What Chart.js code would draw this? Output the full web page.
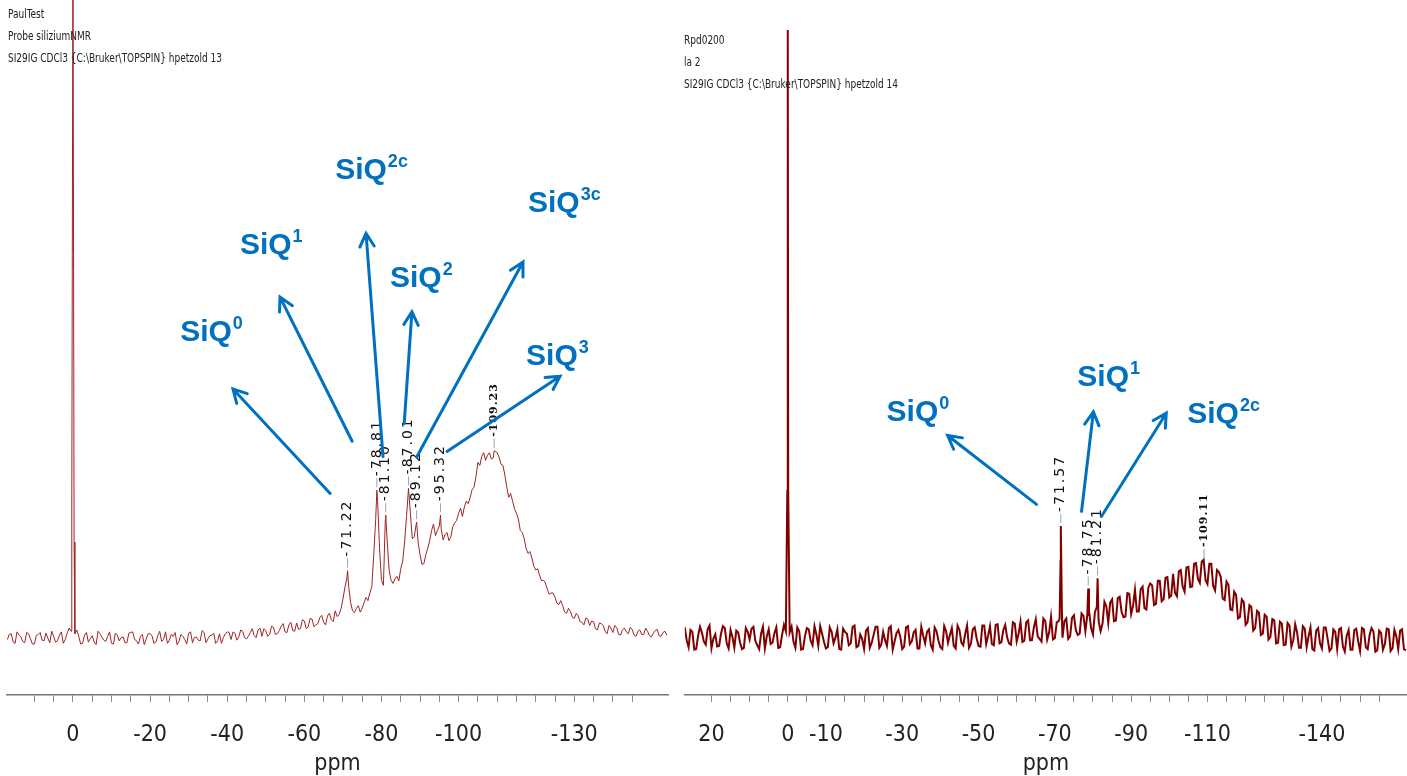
<!DOCTYPE html>
<html>
<head>
<meta charset="utf-8">
<script src="https://cdn.jsdelivr.net/npm/chart.js@4"></script>
<style>
	body { margin: 0; background: #fff; width: 1407px; height: 776px; overflow: hidden; position: relative; }
	canvas { position: absolute; top: 0; }
	#cLeft { left: 0; }
	#cRight { left: 676px; }
	.hdr { position: absolute; font: 12.5px "DejaVu Sans Condensed", "Liberation Sans Narrow", sans-serif; line-height: 22px; color: #222; white-space: nowrap; transform: scaleX(0.8); transform-origin: 0 0; }
</style>
</head>
<body>
<canvas id="cLeft" width="676" height="776"></canvas>
<canvas id="cRight" width="731" height="776"></canvas>
<div class="hdr" style="left:8px; top:3px">PaulTest<br>Probe siliziumNMR<br>SI29IG CDCl3 {C:\Bruker\TOPSPIN} hpetzold 13</div>
<div class="hdr" style="left:684px; top:29px">Rpd0200<br>la 2<br>SI29IG CDCl3 {C:\Bruker\TOPSPIN} hpetzold 14</div>
<script>
// ---- linke Probe (PaulTest) ----
// ganze ppm ab 17, dazu Zwischenwerte bei x.5 ab 16.5
const leftStart = 17;
const leftInt = [
	-0.3, 0.6, -0.9, 0.4, -0.6, 0.8, -0.2, -1.0, 0.5, -0.4, 0.7, -0.8, 0.2, -0.5, 0.9, -0.3, 1.5, 110, 1.2, -1.0,
	0.4, -0.7, 0.3, -1.1, 0.6, -0.4, 0.2, -0.9, 0.7, -0.5, 0.1, -0.8, 0.8, -0.3, -1.0, 0.5, -0.2, 0.6, -0.9, 0.3,
	-0.6, 0.9, -0.4, 0.2, -1.1, 0.5, -0.3, 0.7, -0.8, 0.1, -0.5, 0.8, -0.2, 0.4, -0.9, 0.6, 0.0, 0.9,
	-0.3, 0.7, 0.1, 1.0, -0.2, 0.8, 0.3, 1.2, 0.2, 1.1, 0.5, 1.6, 0.6, 1.8, 0.9, 2.0, 1.1, 2.3, 1.4, 2.6,
	1.7, 2.9, 2.0, 3.1, 2.4, 3.4, 2.8, 4.2, 3.6,
	6.0, 9.2, 5.5, 3.9, 5.0, 4.6, 6.3, 7.0, 13.0, 21.5, 9.0, 18.5, 10.5, 8.5, 9.6, 10.8, 15.0, 23.3, 15.5, 17.8,
	13.0, 11.6, 14.0, 16.8, 16.0, 17.5, 15.3, 16.5, 15.8, 18.0, 19.5, 19.0, 21.4, 22.0, 23.6, 27.5, 28.4, 27.8, 29.0, 28.2, 29.0,
	27.2, 25.5, 22.0, 21.4, 19.5, 16.8, 15.6, 13.2, 12.5, 10.6, 9.8, 9.0, 7.6, 7.0, 6.3, 5.2, 5.0, 3.8, 4.1, 3.0,
	3.4, 2.4, 3.1, 1.9, 2.5, 1.2, 2.2, 1.0, 1.9, 0.8, 1.6, 0.4, 1.5, 0.6, 1.3, 0.2, 1.2, 0.5, 1.0, 0.1, 1.1, 0.3, 0.8, 0.4
];
const leftHalfStart = 16.5;
const leftHalfInt = [
	0.5, -0.7, 0.9, 0.1, -0.8, 0.6, -1.0, 0.3, 0.8, -0.5, -0.1, 1.0, -0.7, 0.4, -0.9, 0.7, 1.0,
	0.6, 0.2, -0.9, 0.8, -0.2, -0.7, 1.0, 0.1, -0.6, 0.9, -1.0, 0.4, 0.0, -0.8, 0.7, 0.9, -0.5, 0.2, -1.1, 0.6,
	0.3, -0.7, 1.0, -0.3, -0.9, 0.5, 0.8, -0.6, 0.2, -1.0, 0.9, 0.0, -0.4, 1.1, -0.8, 0.3, 0.7, -0.5, -0.9, 0.6,
	0.8, 0.9, -0.4, 1.2, 0.0, 0.2, 1.4, 0.0, 1.5, 1.4, 0.2, 1.8, 0.5, 1.1, 2.2, 0.8, 2.4, 1.0, 1.3, 2.8,
	1.4, 3.0, 1.7, 2.2, 3.5, 2.0, 3.8, 2.5, 3.3, 4.5,
	7.8, 8.0, 4.2, 4.6, 4.0, 5.5, 5.8, 8.0, 18.5, 14.0, 8.2, 15.0, 9.0, 9.2, 8.9, 12.0, 19.0, 19.5, 15.8, 15.0,
	11.5, 13.0, 15.2, 17.8, 16.8, 17.0, 16.2, 15.2, 17.4, 18.4, 20.3, 20.5, 21.0, 23.2, 25.2, 27.0, 29.0, 28.6, 28.0, 29.2, 28.3,
	27.0, 23.6, 22.6, 20.2, 18.6, 16.5, 14.0, 13.5, 11.2, 10.8, 8.9, 8.6, 6.8, 7.0, 5.4, 5.8, 4.0, 4.6, 3.2, 3.8,
	2.5, 2.0, 2.9, 2.6, 1.4, 2.3, 1.9, 0.6, 1.5, 1.9, 0.5, 1.2, 0.9, 1.6, 0.4, 1.0, 0.5, 1.5, 0.3, 0.7, 1.3, 0.2, 1.0
];
// Peakspitzen zwischen den Rasterpunkten
const leftExtraPpm = [0.3, -0.3, -71.22, -78.81, -81.10, -87.01, -89.12, -95.32, -109.23];
const leftExtraInt = [20, 15, 10.5, 23.1, 19.2, 23.4, 18.1, 19.2, 29.3];
// beschriftete Peaks
const leftPeakPpm = [-71.22, -78.81, -81.10, -87.01, -89.12, -95.32, -109.23];
const leftPeakInt = [10.5, 23.1, 19.2, 23.4, 18.1, 19.2, 29.3];
const leftTickLabels = [0, -20, -40, -60, -80, -100, -130];
// SiQ-Zuordnungen: Hochzahl, Textposition, Pfeil (ppm, Intensität)
const leftNoteSup = ["0", "1", "2c", "2", "3c", "3"];
const leftNoteAt = [[-27.8, 46.5], [-43.3, 60.2], [-68.0, 72.0], [-82.2, 55.0], [-118.0, 66.8], [-117.5, 42.7]];
const leftArrowTail = [[-66.7, 22.6], [-72.4, 30.8], [-80.4, 28.4], [-85.9, 33.6], [-89.2, 28.4], [-97.0, 29.2]];
const leftArrowHead = [[-41.5, 39.0], [-53.7, 53.4], [-76.0, 63.4], [-87.9, 51.1], [-116.7, 58.9], [-126.3, 41.0]];

// ---- rechte Probe (Rpd0200) ----
// ganze ppm ab 27, dazu Zwischenwerte bei x.5 ab 26.5
const rightStart = 27;
const rightInt = [
	1.6, -1.5, 0.9, -1.8, 1.7, -0.6, 1.3, -1.7, 0.5, -1.3, 1.8, -0.9, 1.2, -1.6, 0.8, -1.8, 1.5, -0.3, 1.7, -1.2,
	0.6, -1.7, 1.3, -0.8, 1.6, -1.5, 2.0, 95.3,
	1.7, -1.6, 1.0, -1.8, 1.5, -0.5, 1.8, -1.3, 0.6, -1.7, 1.6, -0.9, 1.3, -1.9, 0.9, -1.2, 1.7, -1.5, 0.5, -1.8,
	1.5, -0.8, 1.7, -1.6, 0.9, -1.3, 1.8, -0.6, 1.2, -1.8, 1.6, -1.0, 0.8, -1.7, 1.7, -0.9, 1.3, -1.9, 1.0, -1.5,
	1.8, -0.8, 1.5, -1.7, 1.2, -1.2, 1.9, -1.0, 1.6, -1.3,
	1.9, -1.0, 1.8, -1.2, 2.1, -0.7, 2.0, -0.9, 2.4, -0.6, 2.5, -0.5, 2.7, -0.4, 2.9, -0.2, 3.0, -0.3, 3.3, -0.1,
	2.6, 0.0, 3.0, 0.2, 3.5, 0.4, 3.8, 1.0, 4.0, 0.5, 4.8, 1.0,
	5.6, 2.3, 6.0, 2.7, 6.4, 3.2, 7.0, 3.7, 7.5, 4.1, 8.0, 4.4, 8.5, 5.1, 8.9, 5.7, 9.4, 6.3, 10.0, 6.5,
	10.6, 7.2, 11.1, 8.0, 11.7, 8.6, 12.2,
	8.4, 11.6, 7.4, 10.3, 6.1, 8.8, 4.4, 7.2, 3.0, 6.0, 2.0, 5.1, 1.1, 4.2, 0.4, 3.6, -0.3, 2.9, -0.9, 2.5, -1.2,
	2.3, -1.4, 2.1, -1.6, 1.8, -1.5, 1.6, -2.0, 1.5, -1.7, 1.6, -2.1, 1.3, -1.8, 1.5, -2.2, 1.2, -1.9, 1.4, -2.1,
	1.3, -1.8, 1.5, -2.2, 1.1, -1.9, 1.4, -2.1, 1.2, -1.8, 1.3, -2.0
];
const rightHalfStart = 26.5;
const rightHalfInt = [
	-0.4, 1.2, -1.9, 0.3, 0.8, -1.1, 1.9, -0.2, -1.4, 0.6, 1.5, -1.7, 0.1, 1.1, -0.8, -1.6, 0.9, 1.4, -0.5, -1.8,
	1.7, 0.2, -1.0, 0.7, -1.6, 0.4, 1.0,
	0.8, -0.6, 1.6, -1.9, 0.2, 1.3, -1.2, 0.5, 1.8, -0.7, -1.5, 0.9, 0.0, -1.8, 1.4, 0.6, -0.9, 1.9, -1.3, -0.2,
	1.1, -1.6, 0.4, 1.7, -1.1, -0.4, 1.5, -1.9, 0.7, 0.1, -1.4, 1.8, -0.6, 1.2, -1.7, 0.3, 0.9, -1.2, 1.6, -0.5,
	-1.8, 1.0, 0.4, -1.3, 1.9, -0.8, 0.6, -1.6, 1.3, -0.1,
	-1.4, 1.9, 0.3, -1.0, 2.0, -0.9, 1.2, 0.0, -1.1, 2.2, 0.6, -0.7, 2.4, -0.4, 1.6, 0.2, -0.6, 2.6, 0.8, -0.3,
	2.4, 12.0, 2.6, -0.2, 3.1, 1.2, 0.6, 3.4, 3.5, 1.5, 4.0, 2.5,
	2.2, 4.9, 5.5, 2.6, 6.2, 4.0, 3.3, 6.9, 5.0, 4.1, 7.6, 4.6, 7.8, 8.2, 5.3, 8.9, 6.0, 9.5, 6.6, 7.0,
	10.4, 8.0, 11.0, 7.9, 11.6, 9.2, 11.9,
	9.0, 11.6, 8.1, 10.6, 9.5, 5.9, 8.3, 4.3, 6.7, 3.2, 5.6, 2.4, 4.8, 1.5, 3.9, 0.6, 3.3, 0.1, 2.7, -0.8, 2.2,
	-1.1, 1.9, -0.4, 0.8, -1.6, 1.4, 0.2, -1.8, 1.1, -0.9, 1.6, -0.2, -1.7, 0.9, 1.3, -1.4, 0.3, -1.9, 1.2, -0.6,
	1.5, -1.5, 0.4, 1.0, -2.0, 0.7, -1.0, 1.3, -1.7, 0.2, 1.1, -1.8
];
const rightExtraPpm = [0.12, -0.12, -71.25, -71.57, -71.9, -78.75, -78.95, -81.21, -81.45];
const rightExtraInt = [23, 23, 3.0, 17.5, 2.0, 7.7, 3.4, 9.3, 3.0];
const rightPeakPpm = [-71.57, -78.75, -81.21, -109.11];
const rightPeakInt = [17.5, 7.7, 9.3, 12.0];
const rightTickLabels = [20, 0, -10, -30, -50, -70, -90, -110, -140];
const rightNoteSup = ["0", "1", "2c"];
const rightNoteAt = [[-25.9, 33.9], [-75.9, 39.4], [-104.7, 33.6]];
const rightArrowTail = [[-65.2, 20.9], [-77.0, 19.8], [-82.2, 19.0]];
const rightArrowHead = [[-41.9, 31.7], [-80.1, 35.4], [-99.2, 35.2]];

const NARROW = '"DejaVu Sans Condensed", "Liberation Sans Narrow", sans-serif';
const BLUE = "#0070C0";

// Rasterblöcke [start, werte] + Einzelpunkte zu einer sortierten Punktliste
function buildSeries(blocks, extraPpm, extraInt) {
	const pts = [];
	blocks.forEach(([start, ints]) => ints.forEach((v, i) => pts.push({ x: start - i, y: v })));
	extraPpm.forEach((p, i) => pts.push({ x: p, y: extraInt[i] }));
	pts.sort((a, b) => b.x - a.x);
	return pts;
}

// Peakbeschriftung, Pfeile und SiQ-Texte
const nmrNotes = {
	id: "nmrNotes",
	afterDatasetsDraw(chart, args, o) {
		const { ctx, scales: { x, y } } = chart;
		ctx.save();
		o.peakPpm.forEach((p, i) => {
			const px = x.getPixelForValue(p);
			const py = y.getPixelForValue(o.peakInt[i]);
			ctx.strokeStyle = "#9aa3bd";
			ctx.lineWidth = 1;
			ctx.beginPath();
			ctx.moveTo(px, py - 3);
			ctx.lineTo(px, py - 12);
			ctx.stroke();
			const hump = i === o.peakPpm.length - 1;
			ctx.save();
			ctx.translate(px, py - 14);
			ctx.rotate(-Math.PI / 2);
			ctx.fillStyle = "#111";
			ctx.font = hump ? "bold 11px 'DejaVu Serif', serif" : "14px 'DejaVu Sans', sans-serif";
			ctx.letterSpacing = hump ? "1px" : "2px";
			ctx.textAlign = "left";
			ctx.textBaseline = "middle";
			ctx.fillText(p.toFixed(2), 0, 0);
			ctx.restore();
		});

		ctx.strokeStyle = BLUE;
		ctx.lineWidth = 3;
		ctx.lineCap = "round";
		o.tail.forEach((t, i) => {
			const x0 = x.getPixelForValue(t[0]), y0 = y.getPixelForValue(t[1]);
			const x1 = x.getPixelForValue(o.head[i][0]), y1 = y.getPixelForValue(o.head[i][1]);
			const a = Math.atan2(y1 - y0, x1 - x0);
			ctx.beginPath();
			ctx.moveTo(x0, y0);
			ctx.lineTo(x1, y1);
			ctx.moveTo(x1 - 15 * Math.cos(a - 0.5), y1 - 15 * Math.sin(a - 0.5));
			ctx.lineTo(x1, y1);
			ctx.lineTo(x1 - 15 * Math.cos(a + 0.5), y1 - 15 * Math.sin(a + 0.5));
			ctx.stroke();
		});

		ctx.fillStyle = BLUE;
		ctx.textAlign = "left";
		ctx.textBaseline = "alphabetic";
		o.noteAt.forEach((n, i) => {
			const nx = x.getPixelForValue(n[0]), ny = y.getPixelForValue(n[1]);
			ctx.font = "bold 30px 'Liberation Sans', Arial, sans-serif";
			ctx.fillText("SiQ", nx, ny);
			const w = ctx.measureText("SiQ").width;
			ctx.font = "bold 18px 'Liberation Sans', Arial, sans-serif";
			ctx.fillText(o.sup[i], nx + w + 1, ny - 12);
		});
		ctx.restore();
	},
};

function makeChart(id, series, cfg) {
	const ctx = document.getElementById(id).getContext("2d");
	return new Chart(ctx, {
		type: "line",
		data: {
			datasets: [
				{
					data: series,
					borderColor: cfg.color,
					borderWidth: cfg.width,
					pointRadius: 0,
					tension: 0,
				},
			],
		},
		options: {
			responsive: false,
			animation: false,
			layout: { padding: cfg.padding },
			plugins: {
				legend: { display: false },
				tooltip: { enabled: false },
				nmrNotes: cfg.notes,
			},
			scales: {
				x: {
					type: "linear",
					reverse: true,
					min: cfg.min,
					max: cfg.max,
					afterBuildTicks: (s) => {
						s.ticks = s.ticks.filter((t) => Math.abs(Math.round(t.value / 5) * 5 - t.value) < 1e-6);
					},
					ticks: {
						stepSize: 5,
						autoSkip: false,
						maxRotation: 0,
						minRotation: 0,
						padding: 22,
						color: "#222",
						font: { family: NARROW, size: 23, lineHeight: 1 },
						callback: (v) => {
							const r = Math.round(v);
							return cfg.tickLabels.includes(r) && Math.abs(r - v) < 1e-6 ? String(r) : "";
						},
					},
					grid: { drawOnChartArea: false, drawTicks: true, tickLength: 7, color: "#888" },
					border: { display: true, color: "#777", width: 1.5 },
					title: {
						display: true,
						text: "ppm",
						color: "#222",
						font: { family: NARROW, size: 23, lineHeight: 1 },
						padding: { top: -16, bottom: 0 },
					},
				},
				y: { display: false, min: -9, max: 100 },
			},
		},
		plugins: [nmrNotes],
	});
}

makeChart("cLeft", buildSeries([[leftStart, leftInt], [leftHalfStart, leftHalfInt]], leftExtraPpm, leftExtraInt), {
	color: "rgb(160, 35, 35)",
	width: 1,
	padding: { left: 7, right: 8, top: 0, bottom: 0 },
	min: -154.3,
	max: 17.1,
	tickLabels: leftTickLabels,
	notes: {
		peakPpm: leftPeakPpm, peakInt: leftPeakInt,
		tail: leftArrowTail, head: leftArrowHead,
		noteAt: leftNoteAt, sup: leftNoteSup,
	},
});

makeChart("cRight", buildSeries([[rightStart, rightInt], [rightHalfStart, rightHalfInt]], rightExtraPpm, rightExtraInt), {
	color: "rgb(128, 0, 0)",
	width: 2,
	padding: { left: 8, right: 0, top: 0, bottom: 0 },
	min: -162.3,
	max: 27.0,
	tickLabels: rightTickLabels,
	notes: {
		peakPpm: rightPeakPpm, peakInt: rightPeakInt,
		tail: rightArrowTail, head: rightArrowHead,
		noteAt: rightNoteAt, sup: rightNoteSup,
	},
});
</script>
</body>
</html>
